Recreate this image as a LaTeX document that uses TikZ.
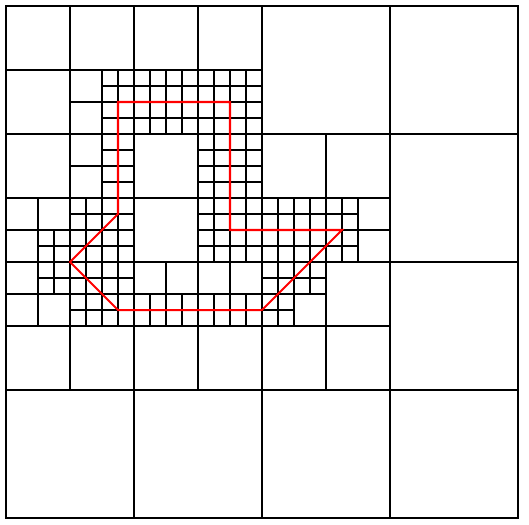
\documentclass[tikz,border=0pt]{standalone}
\usepackage{tikz}

\begin{document}
\begin{tikzpicture}[
    x=0.25cm, y=0.25cm,
    cell/.style={
            draw,
            line width=0.85pt
        },
    fine_grid/.style={
            draw,
            line width=0.85pt,
            step=1
        },
    contour/.style={
            draw=red,
            line width=0.9pt,
            line join=miter
        },
    ]

    \useasboundingbox (-0.375,0.375) rectangle (32.6875,-32.375);

    % --- Coarse leaves (col/row/size, rows counted downwards) ---
    \foreach \c/\r/\s in {
            16/0/8, 24/0/8, 24/8/8, 0/24/8, 8/24/8, 24/16/8, 16/24/8, 24/24/8,
            0/0/4, 4/0/4, 0/4/4, 8/0/4, 12/0/4, 0/8/4, 8/8/4, 8/12/4,
            16/8/4, 20/8/4, 0/20/4, 4/20/4, 8/20/4, 12/20/4, 20/16/4, 16/20/4, 20/20/4,
            4/4/2, 4/6/2, 4/8/2, 4/10/2, 0/12/2, 2/12/2, 0/14/2, 22/12/2, 22/14/2,
            0/16/2, 0/18/2, 2/18/2, 8/16/2, 10/16/2, 12/16/2, 14/16/2, 18/18/2}
        \draw[cell] (\c,-\r) rectangle ++(\s,-\s);

    % --- Finest level ---
    \draw[fine_grid] (6,-8) grid (16,-4);
    \draw[fine_grid] (6,-12) grid (8,-8);
    \draw[fine_grid] (12,-16) grid (16,-8);
    \draw[fine_grid] (4,-16) grid (8,-12);
    \draw[fine_grid] (2,-16) grid (4,-14);
    \draw[fine_grid] (16,-16) grid (22,-12);
    \draw[fine_grid] (2,-18) grid (4,-16);
    \draw[fine_grid] (4,-20) grid (8,-16);
    \draw[fine_grid] (8,-20) grid (16,-18);
    \draw[fine_grid] (16,-18) grid (20,-16);
    \draw[fine_grid] (16,-20) grid (18,-18);

    % --- Interface ---
    \draw[contour] (7,-6) -- (14,-6) -- (14,-14) -- (21,-14) -- (16,-19)
        -- (7,-19) -- (4,-16) -- (7,-13) -- cycle;

\end{tikzpicture}
\end{document}
